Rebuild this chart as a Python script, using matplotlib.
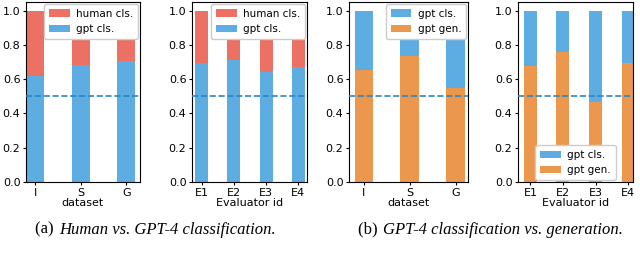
import matplotlib.pyplot as plt
import numpy as np

# data
datasets = ["I", "S", "G"]
evaluators = ["E1", "E2", "E3", "E4"]

gpt_cls_ds = [0.62, 0.68, 0.707]
gpt_cls_ev = [0.694, 0.71, 0.64, 0.672]
gpt_gen_ds = [0.651, 0.737, 0.55]
gpt_gen_ev = [0.674, 0.76, 0.466, 0.696]

RED = "#EC7063"
BLUE = "#5DADE2"
ORANGE = "#EB984E"
DASH = "#2E86C1"

fig = plt.figure(figsize=(6.4, 2.67), dpi=100)

FS = 8
boxes = [
    [26 / 640, 1 - 182 / 267, 114 / 640, 180 / 267],
    [192 / 640, 1 - 182 / 267, 115 / 640, 180 / 267],
    [349 / 640, 1 - 182 / 267, 119 / 640, 180 / 267],
    [518 / 640, 1 - 182 / 267, 115 / 640, 180 / 267],
]
xlims = [(-0.2, 2.3), (-0.3, 3.27), (-0.32, 2.27), (-0.38, 3.15)]


def stacked(ax, labels, bottom_vals, bottom_col, bottom_lab, top_col, top_lab, xlabel):
    x = np.arange(len(labels))
    bottom_vals = np.array(bottom_vals)
    ax.bar(x, bottom_vals, width=0.4, color=bottom_col, label=bottom_lab, zorder=2)
    ax.bar(x, 1 - bottom_vals, width=0.4, bottom=bottom_vals, color=top_col,
           label=top_lab, zorder=2)
    ax.axhline(0.5, color=DASH, linestyle="--", linewidth=1.2, zorder=3)
    ax.set_xticks(x)
    ax.set_xticklabels(labels)
    ax.set_ylim(0, 1.05)
    ax.set_yticks([0.0, 0.2, 0.4, 0.6, 0.8, 1.0])
    ax.tick_params(labelsize=FS, pad=1.5, length=2.5)
    ax.set_xlabel(xlabel, fontsize=FS, labelpad=0.5)


axes = [fig.add_axes(b) for b in boxes]

stacked(axes[0], datasets, gpt_cls_ds, BLUE, "gpt cls.", RED, "human cls.", "dataset")
stacked(axes[1], evaluators, gpt_cls_ev, BLUE, "gpt cls.", RED, "human cls.", "Evaluator id")
stacked(axes[2], datasets, gpt_gen_ds, ORANGE, "gpt gen.", BLUE, "gpt cls.", "dataset")
stacked(axes[3], evaluators, gpt_gen_ev, ORANGE, "gpt gen.", BLUE, "gpt cls.", "Evaluator id")

for ax, lim in zip(axes, xlims):
    ax.set_xlim(*lim)

for i, ax in enumerate(axes):
    h, l = ax.get_legend_handles_labels()
    loc = "lower center" if i == 3 else "upper right"
    leg = ax.legend(h[::-1], l[::-1], loc=loc, fontsize=7.5, framealpha=1,
                    borderaxespad=0.2, handlelength=2.0, labelspacing=0.5,
                    borderpad=0.45, handletextpad=0.6)
    leg.set_zorder(5)

# sub-figure captions: upright tag, italic text right after it
serif = "Liberation Serif"
renderer = fig.canvas.get_renderer()
for x0, tag, cap in [(35, "(a)", "Human vs. GPT-4 classification."),
                     (358, "(b)", "GPT-4 classification vs. generation.")]:
    t = fig.text(x0 / 640, 0.125, tag + " ", fontsize=12, family=serif,
                 ha="left", va="baseline")
    bb = t.get_window_extent(renderer)
    fig.text((bb.x1 + 1) / 640, 0.125, cap, fontsize=12, family=serif,
             style="italic", ha="left", va="baseline")

fig.savefig("out.png", dpi=100)
